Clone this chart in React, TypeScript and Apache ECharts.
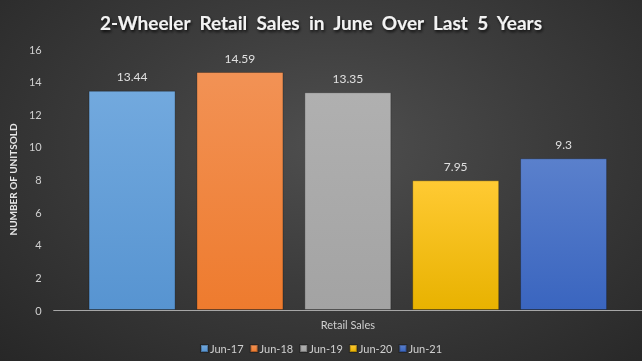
import React, { useEffect, useRef } from "react";
import * as echarts from "echarts";

const categories = ["Retail Sales"];
const seriesNames = ["Jun-17", "Jun-18", "Jun-19", "Jun-20", "Jun-21"];
const seriesValues = [13.44, 14.59, 13.35, 7.95, 9.3];
const yTicks = { min: 0, max: 16, interval: 2 };
const colorsTop = ["#72a9de", "#f29255", "#b0b0b0", "#ffca33", "#5a80cc"];
const colorsBottom = ["#5794d1", "#ee7b2e", "#a3a3a3", "#e8b200", "#3a65bf"];

export default function App() {
  const ref = useRef<HTMLDivElement>(null);
  useEffect(() => {
    if (!ref.current) return;
    const chart = echarts.init(ref.current, undefined, { renderer: "svg" });
    const font = "Lato, 'Open Sans', sans-serif";
    const titleText = "2-Wheeler Retail Sales in June Over Last 5 Years".split(" ").join("\u00a0 ");
    chart.setOption({
      animation: false,
      backgroundColor: "transparent",
      title: {
        text: titleText,
        left: "center",
        top: 8,
        textStyle: {
          color: "#f2f2f2",
          fontSize: 19,
          fontWeight: "bold",
          fontFamily: font,
          textShadowColor: "rgba(0,0,0,0.8)",
          textShadowBlur: 3,
          textShadowOffsetX: 1,
          textShadowOffsetY: 2,
        },
      },
      legend: {
        bottom: 2,
        left: "center",
        itemWidth: 7,
        itemHeight: 7,
        itemGap: 6,
        icon: "rect",
        textStyle: { color: "#d0d0d0", fontSize: 11, fontFamily: font, padding: [0, 0, 0, -3] },
        data: seriesNames,
      },
      grid: { left: 44, right: -8, top: 49, bottom: 51, containLabel: false },
      xAxis: {
        type: "category",
        data: categories,
        axisLine: { show: true, lineStyle: { color: "#a6a6a6", width: 1 } },
        axisTick: { show: false },
        axisLabel: { color: "#d0d0d0", fontSize: 11, fontFamily: font, margin: 9 },
      },
      yAxis: {
        type: "value",
        min: yTicks.min,
        max: yTicks.max,
        interval: yTicks.interval,
        name: "NUMBER OF UNITSOLD",
        nameLocation: "middle",
        nameGap: 31,
        nameTextStyle: { color: "#e6e6e6", fontSize: 10, fontWeight: "bold", fontFamily: font },
        axisLine: { show: false },
        axisTick: { show: false },
        splitLine: { show: false },
        axisLabel: { color: "#d0d0d0", fontSize: 11, fontFamily: font, margin: 12 },
      },
      series: seriesNames.map((name, i) => ({
        name,
        type: "bar",
        barWidth: 87,
        barGap: "24%",
        data: [seriesValues[i]],
        itemStyle: {
          color: new echarts.graphic.LinearGradient(0, 0, 0, 1, [
            { offset: 0, color: colorsTop[i] },
            { offset: 1, color: colorsBottom[i] },
          ]),
          borderColor: "rgba(0,0,0,0.25)",
          borderWidth: 1,
        },
        label: {
          show: true,
          position: "top",
          distance: 8,
          color: "#e0e0e0",
          fontSize: 12,
          fontFamily: font,
        },
      })),
    });
    return () => chart.dispose();
  }, []);
  return (
    <div
      style={{
        position: "fixed",
        left: 0,
        top: 0,
        width: 642,
        height: 361,
        background: "radial-gradient(ellipse at 52% 40%, #4f4f4f 0%, #3c3c3c 45%, #272727 100%)",
      }}
    >
      <div ref={ref} style={{ width: 642, height: 361 }} />
    </div>
  );
}
